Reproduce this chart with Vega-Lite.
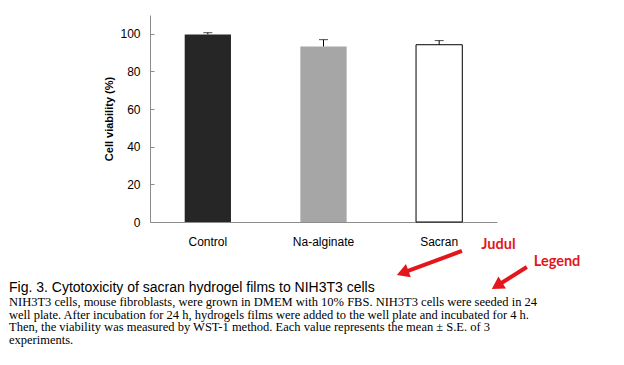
{
  "$schema": "https://vega.github.io/schema/vega-lite/v6.json",
  "autosize": "none",
  "width": 347,
  "height": 207,
  "padding": {"left": 150, "top": 15, "right": 127, "bottom": 143},
  "background": "white",
  "config": {"view": {"stroke": null}, "font": "Liberation Sans"},
  "title": {
    "text": "Fig. 3. Cytotoxicity of sacran hydrogel films to NIH3T3 cells",
    "subtitle": [
      "NIH3T3 cells, mouse fibroblasts, were grown in DMEM with 10% FBS. NIH3T3 cells were seeded in 24",
      "well plate. After incubation for 24 h, hydrogels films were added to the well plate and incubated for 4 h.",
      "Then, the viability was measured by WST-1 method. Each value represents the mean ± S.E. of 3",
      "experiments."
    ],
    "orient": "bottom",
    "anchor": "start",
    "frame": "group",
    "dx": -141,
    "offset": -8,
    "font": "Liberation Sans",
    "fontSize": 14,
    "fontWeight": "normal",
    "color": "black",
    "subtitleFont": "Liberation Serif",
    "subtitleFontSize": 12.5,
    "subtitleLineHeight": 12.6,
    "subtitleColor": "black",
    "subtitlePadding": 1
  },
  "datasets": {
    "viability": [
      {"group": "Control", "mean": 99.7, "se": 0.9},
      {"group": "Na-alginate", "mean": 93.3, "se": 3.6},
      {"group": "Sacran", "mean": 94.2, "se": 2.2}
    ],
    "arrows": [
      {"note": "Judul", "fx": 0.899, "fy": -15.4, "hx": 0.728, "hy": -27.0, "heading": 250},
      {"note": "Legend", "fx": 1.086, "fy": -23.9, "hx": 1.0, "hy": -33.9, "heading": 238}
    ],
    "labels": [
      {"note": "Judul", "fx": 1.004, "fy": -12.2},
      {"note": "Legend", "fx": 1.173, "fy": -21.3}
    ]
  },
  "resolve": {"scale": {"x": "independent"}, "axis": {"x": "independent"}},
  "layer": [
    {
      "data": {"name": "viability"},
      "layer": [
        {
          "mark": {"type": "bar", "width": {"band": 0.4}, "stroke": "black", "strokeWidth": 1},
          "encoding": {
            "x": {
              "field": "group", "type": "nominal", "sort": null,
              "scale": {"paddingInner": 0, "paddingOuter": 0},
              "axis": {
                "title": null, "labelAngle": 0, "ticks": false,
                "labelPadding": 14, "labelFontSize": 12, "labelColor": "black",
                "domainColor": "#8c8c8c", "labelFont": "Liberation Sans"
              }
            },
            "y": {
              "field": "mean", "type": "quantitative",
              "scale": {"domain": [0, 110], "nice": false},
              "axis": {
                "title": "Cell viability (%)", "values": [0, 20, 40, 60, 80, 100],
                "grid": false, "tickSize": -4, "labelPadding": 14,
                "tickColor": "#8c8c8c", "domainColor": "#8c8c8c",
                "labelFontSize": 12, "labelColor": "black", "labelFont": "Liberation Sans",
                "titleFontSize": 11, "titleFontWeight": "bold", "titleColor": "black",
                "titleFont": "Liberation Sans", "titlePadding": 5
              }
            },
            "fill": {
              "field": "group", "type": "nominal",
              "scale": {"domain": ["Control", "Na-alginate", "Sacran"], "range": ["#262626", "#a6a6a6", "#ffffff"]},
              "legend": null
            },
            "strokeOpacity": {
              "condition": {"test": "datum.group === 'Sacran'", "value": 1},
              "value": 0
            }
          }
        },
        {
          "mark": {"type": "rule", "color": "black", "strokeWidth": 1},
          "encoding": {
            "x": {"field": "group", "type": "nominal", "sort": null},
            "y": {"field": "mean", "type": "quantitative"},
            "y2": {"field": "upper"}
          },
          "transform": [{"calculate": "datum.mean + datum.se", "as": "upper"}]
        },
        {
          "mark": {"type": "tick", "color": "black", "thickness": 1, "size": 9, "orient": "horizontal"},
          "transform": [{"calculate": "datum.mean + datum.se", "as": "upper"}],
          "encoding": {
            "x": {"field": "group", "type": "nominal", "sort": null},
            "y": {"field": "upper", "type": "quantitative"}
          }
        }
      ]
    },
    {
      "data": {"name": "arrows"},
      "layer": [
        {
          "mark": {"type": "rule", "color": "#e3161c", "strokeWidth": 4},
          "encoding": {
            "x": {"field": "fx", "type": "quantitative", "scale": {"domain": [0, 1]}, "axis": null},
            "y": {"field": "fy", "type": "quantitative"},
            "x2": {"field": "hx"},
            "y2": {"field": "hy"}
          }
        },
        {
          "mark": {"type": "point", "shape": "triangle-up", "filled": true, "color": "#e3161c", "size": 200, "opacity": 1},
          "encoding": {
            "x": {"field": "hx", "type": "quantitative", "scale": {"domain": [0, 1]}, "axis": null},
            "y": {"field": "hy", "type": "quantitative"},
            "angle": {"field": "heading", "type": "quantitative", "scale": null}
          }
        }
      ]
    },
    {
      "data": {"name": "labels"},
      "mark": {"type": "text", "color": "#e3161c", "font": "Lato", "fontWeight": "bold", "fontSize": 14.5},
      "encoding": {
        "x": {"field": "fx", "type": "quantitative", "scale": {"domain": [0, 1]}, "axis": null},
        "y": {"field": "fy", "type": "quantitative"},
        "text": {"field": "note"}
      }
    }
  ]
}
